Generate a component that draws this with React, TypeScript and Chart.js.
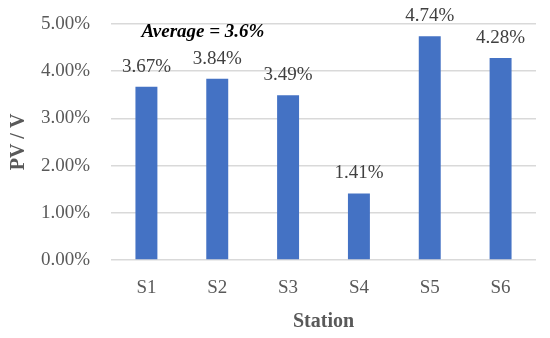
import React, { useEffect, useRef } from "react";
import { Chart, registerables } from "chart.js";

Chart.register(...registerables);

const stations: string[] = ["S1", "S2", "S3", "S4", "S5", "S6"];
const pvRatio: number[] = [3.67, 3.84, 3.49, 1.41, 4.74, 4.28];
const yTickValues: number[] = [0, 1, 2, 3, 4, 5];
const averageNote = "Average = 3.6%";
const xTitle = "Station";
const yTitle = "PV / V";

const FONT = "'Liberation Serif', 'Times New Roman', serif";

const labelPlugin = {
  id: "barLabels",
  afterDatasetsDraw(chart: any) {
    const ctx = chart.ctx;
    const meta = chart.getDatasetMeta(0);
    ctx.save();
    ctx.font = `normal 19px ${FONT}`;
    ctx.fillStyle = "#404040";
    ctx.textAlign = "center";
    ctx.textBaseline = "middle";
    meta.data.forEach((bar: any, i: number) => {
      ctx.fillText(pvRatio[i].toFixed(2) + "%", bar.x, bar.y - 20);
    });
    const area = chart.chartArea;
    ctx.font = `italic bold 19px ${FONT}`;
    ctx.fillStyle = "#000000";
    ctx.fillText(averageNote, area.left + 92, area.top + 8);
    ctx.restore();
  },
};

export default function App() {
  const ref = useRef<HTMLCanvasElement | null>(null);
  useEffect(() => {
    if (!ref.current) return;
    const chart = new Chart(ref.current, {
      type: "bar",
      data: {
        labels: stations,
        datasets: [
          {
            data: pvRatio,
            backgroundColor: "#4472C4",
            borderWidth: 0,
            categoryPercentage: 1,
            barPercentage: 0.31,
          },
        ],
      },
      options: {
        responsive: false,
        animation: false,
        layout: { padding: { top: 24, right: 14, left: 0, bottom: 0 } },
        plugins: {
          legend: { display: false },
          tooltip: { enabled: false },
        },
        scales: {
          x: {
            grid: { display: false, drawTicks: false },
            border: { display: false },
            ticks: {
              padding: 17,
              color: "#595959",
              font: { family: FONT, size: 19, lineHeight: 1.2 },
            },
            title: {
              display: true,
              text: xTitle,
              color: "#595959",
              font: { family: FONT, size: 20, weight: "bold", lineHeight: 1.2 },
              padding: { top: 0, bottom: 4 },
            },
            afterFit: (scale: any) => {
              scale.height = 78;
            },
          },
          y: {
            min: 0,
            max: 5,
            grid: {
              color: "#d9d9d9",
              lineWidth: 1.5,
              drawTicks: true,
              tickLength: 17,
              tickColor: "rgba(0,0,0,0)",
            },
            border: { display: false },
            afterBuildTicks: (scale: any) => {
              scale.ticks = yTickValues.map((v) => ({ value: v }));
            },
            ticks: {
              padding: 4,
              color: "#595959",
              font: { family: FONT, size: 19, lineHeight: 1.2 },
              callback: (v: any) => Number(v).toFixed(2) + "%",
            },
            title: {
              display: true,
              text: yTitle,
              color: "#595959",
              font: { family: FONT, size: 20, weight: "bold", lineHeight: 1.2 },
              padding: { top: 7, bottom: 0 },
            },
            afterFit: (scale: any) => {
              scale.width = 111;
            },
          },
        },
      },
      plugins: [labelPlugin],
    });
    return () => chart.destroy();
  }, []);
  return (
    <div style={{ position: "absolute", left: 0, top: 0, width: 550, height: 338, background: "#fff" }}>
      <canvas ref={ref} width={550} height={338} />
    </div>
  );
}
